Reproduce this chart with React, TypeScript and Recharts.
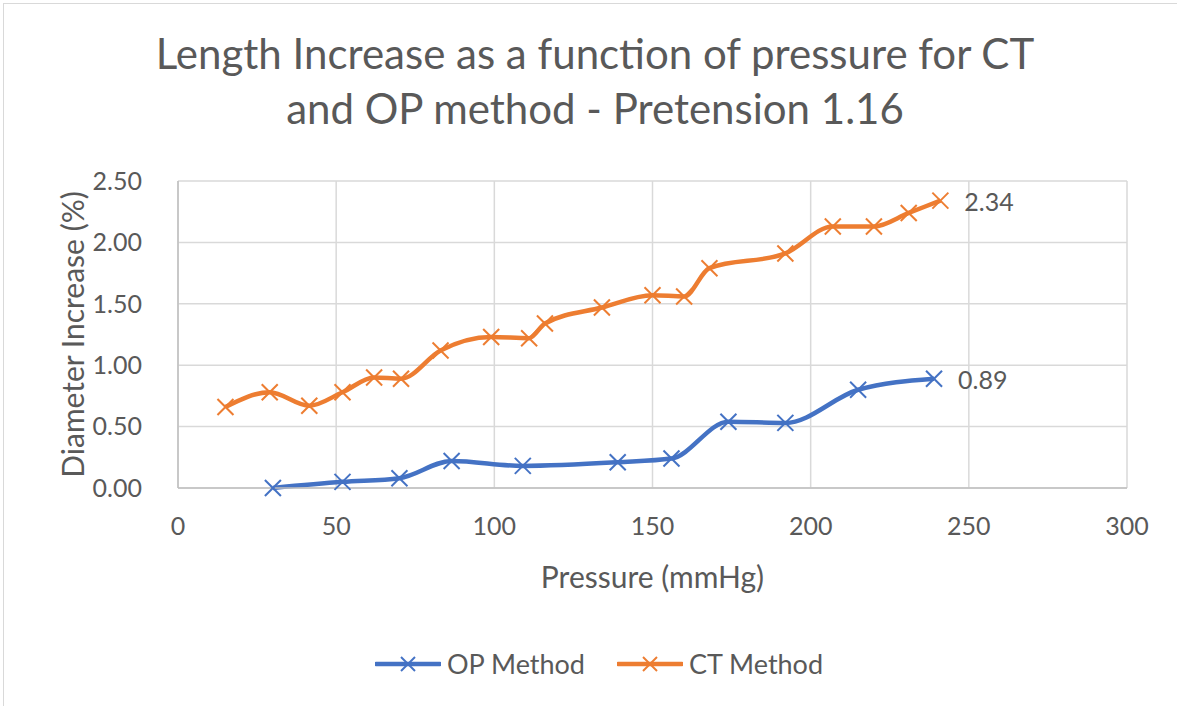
import { LineChart, Line, XAxis, YAxis, CartesianGrid, Legend, LabelList } from "recharts"

// OP method (blue) readings
const opPressure = [30, 52, 70, 86.5, 109, 139, 156, 174, 192, 215, 239]
const opIncrease = [0.0, 0.05, 0.08, 0.22, 0.18, 0.21, 0.24, 0.54, 0.53, 0.8, 0.89]

// CT method (orange) readings
const ctPressure = [15, 29, 41.5, 52, 62, 70.5, 83, 99, 111, 116, 134, 150, 160, 168, 192, 207, 220, 231, 241]
const ctIncrease = [0.66, 0.78, 0.67, 0.78, 0.9, 0.89, 1.12, 1.23, 1.22, 1.34, 1.47, 1.57, 1.56, 1.79, 1.91, 2.13, 2.13, 2.24, 2.34]

const xTicks = [0, 50, 100, 150, 200, 250, 300]
const yTicks = [0, 0.5, 1, 1.5, 2, 2.5]

const titleLines = ["Length Increase as a function of pressure for CT", "and OP method - Pretension 1.16"]

const opData = opPressure.map((x, i) => ({ x, y: opIncrease[i] }))
const ctData = ctPressure.map((x, i) => ({ x, y: ctIncrease[i] }))

const series = [
    { name: "OP Method", color: "#4472C4", data: opData },
    { name: "CT Method", color: "#ED7D31", data: ctData },
]

const FONT = "Lato, 'Open Sans', sans-serif"
const TEXT = "#595959"
const GRID = "#d9d9d9"

function XMark({ cx, cy, stroke, s = 8 }: any) {
    if (cx == null || cy == null) return null
    return (
        <g>
            <line x1={cx - s} y1={cy - s} x2={cx + s} y2={cy + s} stroke={stroke} strokeWidth={2} />
            <line x1={cx - s} y1={cy + s} x2={cx + s} y2={cy - s} stroke={stroke} strokeWidth={2} />
        </g>
    )
}

// only the last point of each series gets its value printed
function lastLabel(count: number) {
    return (props: any) => {
        const { x, y, value, index } = props
        if (index !== count - 1) return null
        return (
            <text x={x + 24} y={y} dominantBaseline="central" fill={TEXT} fontSize={25} fontFamily={FONT}>
                {Number(value).toFixed(2)}
            </text>
        )
    }
}

function renderLegend() {
    return (
        <div style={{ display: "flex", alignItems: "center", paddingLeft: 375, fontFamily: FONT, fontSize: 27, color: TEXT }}>
            {series.map((s, i) => (
                <div key={s.name} style={{ display: "flex", alignItems: "center", marginRight: i === 0 ? 32 : 0 }}>
                    <svg width={66} height={20} style={{ marginRight: 6 }}>
                        <line x1={1} y1={10} x2={65} y2={10} stroke={s.color} strokeWidth={4.5} strokeLinecap="round" />
                        <XMark cx={33} cy={10} stroke={s.color} s={7} />
                    </svg>
                    <span>{s.name}</span>
                </div>
            ))}
        </div>
    )
}

export default function App() {
    return (
        <div style={{ position: "absolute", left: 0, top: 0, width: 1177, height: 706, background: "#fff", overflow: "hidden" }}>
            <div style={{ position: "absolute", left: 3, top: 3, width: 1220, height: 740, border: `1.5px solid ${GRID}` }} />
            <div
                style={{
                    position: "absolute",
                    left: 3,
                    top: 26,
                    width: 1184,
                    textAlign: "center",
                    fontFamily: FONT,
                    fontSize: 42,
                    lineHeight: "55px",
                    color: TEXT,
                }}
            >
                {titleLines.map((t) => (
                    <div key={t}>{t}</div>
                ))}
            </div>
            <div style={{ position: "absolute", left: 0, top: 0 }}>
                <LineChart width={1177} height={706} margin={{ top: 181, right: 50, left: 0, bottom: 118 }}>
                    <CartesianGrid stroke={GRID} strokeWidth={1.5} />
                    <XAxis
                        type="number"
                        dataKey="x"
                        domain={[0, 300]}
                        ticks={xTicks}
                        height={100}
                        tickSize={0}
                        tickMargin={29}
                        axisLine={{ stroke: "#bfbfbf", strokeWidth: 1.5 }}
                        tick={{ fill: TEXT, fontSize: 25, fontFamily: FONT }}
                        label={{ value: "Pressure (mmHg)", position: "insideTop", offset: 79, fill: TEXT, fontSize: 30, fontFamily: FONT }}
                    />
                    <YAxis
                        type="number"
                        domain={[0, 2.5]}
                        ticks={yTicks}
                        width={178}
                        tickSize={0}
                        tickMargin={36}
                        axisLine={{ stroke: "#bfbfbf", strokeWidth: 1.5 }}
                        tickFormatter={(v: number) => v.toFixed(2)}
                        tick={{ fill: TEXT, fontSize: 25, fontFamily: FONT }}
                        label={{
                            value: "Diameter Increase (%)",
                            angle: -90,
                            position: "insideLeft",
                            offset: 73,
                            fill: TEXT,
                            fontSize: 30,
                            fontFamily: FONT,
                            style: { textAnchor: "middle" },
                        }}
                    />
                    <Legend content={renderLegend} verticalAlign="middle" wrapperStyle={{ top: 647, left: 0, width: 1177 }} />
                    {series.map((s) => (
                        <Line
                            key={s.name}
                            name={s.name}
                            data={s.data}
                            dataKey="y"
                            type="monotone"
                            stroke={s.color}
                            strokeWidth={4.5}
                            dot={(p: any) => <XMark key={`${s.name}-${p.index}`} cx={p.cx} cy={p.cy} stroke={s.color} />}
                            activeDot={false}
                            isAnimationActive={false}
                        >
                            <LabelList dataKey="y" content={lastLabel(s.data.length)} />
                        </Line>
                    ))}
                </LineChart>
            </div>
        </div>
    )
}
